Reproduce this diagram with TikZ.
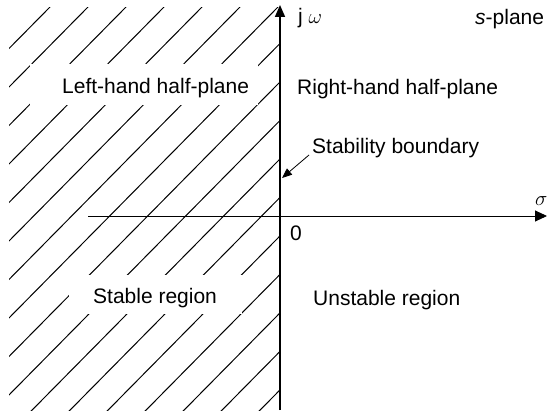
\documentclass[tikz,border=0pt]{standalone}
\usepackage{fontspec}
\setmainfont{Liberation Sans}
\usetikzlibrary{arrows.meta}
\begin{document}
\begin{tikzpicture}[x=1pt,y=-1pt,
  lbl/.style={anchor=base west,inner sep=0pt,font=\fontsize{21}{25}\selectfont},
  hatch/.style={line width=1pt},
  gapbox/.style={fill=white,draw=none},
  axisv/.style={line width=1.7pt,-{Triangle[length=12pt,width=10pt]}},
  axish/.style={line width=0.9pt,-{Triangle[length=12pt,width=11pt]}},
  ptr/.style={line width=0.8pt,-{Triangle[length=10pt,width=8pt]}}]
\useasboundingbox (0,0) rectangle (548,412);
% hatching of the left half-plane
\begin{scope}
  \clip (9,8) rectangle (280,410);
  \foreach \k in {0,...,16}{
    \draw[hatch] ({49+38*\k+10},{8-10.13}) -- ({49+38*\k-450},{8+455.85});
  }
\end{scope}
% gaps around the labels
\fill[gapbox] (30,64) rectangle (258,105);
\fill[gapbox] (69,275) rectangle (242,314);
% axes
\coordinate (vbot) at (280,410);
\coordinate (vtop) at (280,5);
\coordinate (hleft) at (88,216);
\coordinate (hright) at (547,216);
\draw[axish] (hleft) -- (hright);
\draw[axisv] (vbot) -- (vtop);
% labels
\node[lbl] (jw) at (298,24) {j $\omega$};
\node[lbl] (splane) at (475,25) {\textit{s}-plane};
\node[lbl] (lhp) at (62,93) {Left-hand half-plane};
\node[lbl] (rhp) at (297,94) {Right-hand half-plane};
\node[lbl] (sb) at (312,153) {Stability boundary};
\node[lbl] (sigma) at (535,205) {$\sigma$};
\node[lbl] (zero) at (290,240) {0};
\node[lbl] (stable) at (93,303) {Stable region};
\node[lbl] (unstable) at (313,305) {Unstable region};
% pointer to the stability boundary
\coordinate (sbtail) at (309,155);
\coordinate (sbtip) at (282,178);
\draw[ptr] (sbtail) -- (sbtip);
\end{tikzpicture}
\end{document}
